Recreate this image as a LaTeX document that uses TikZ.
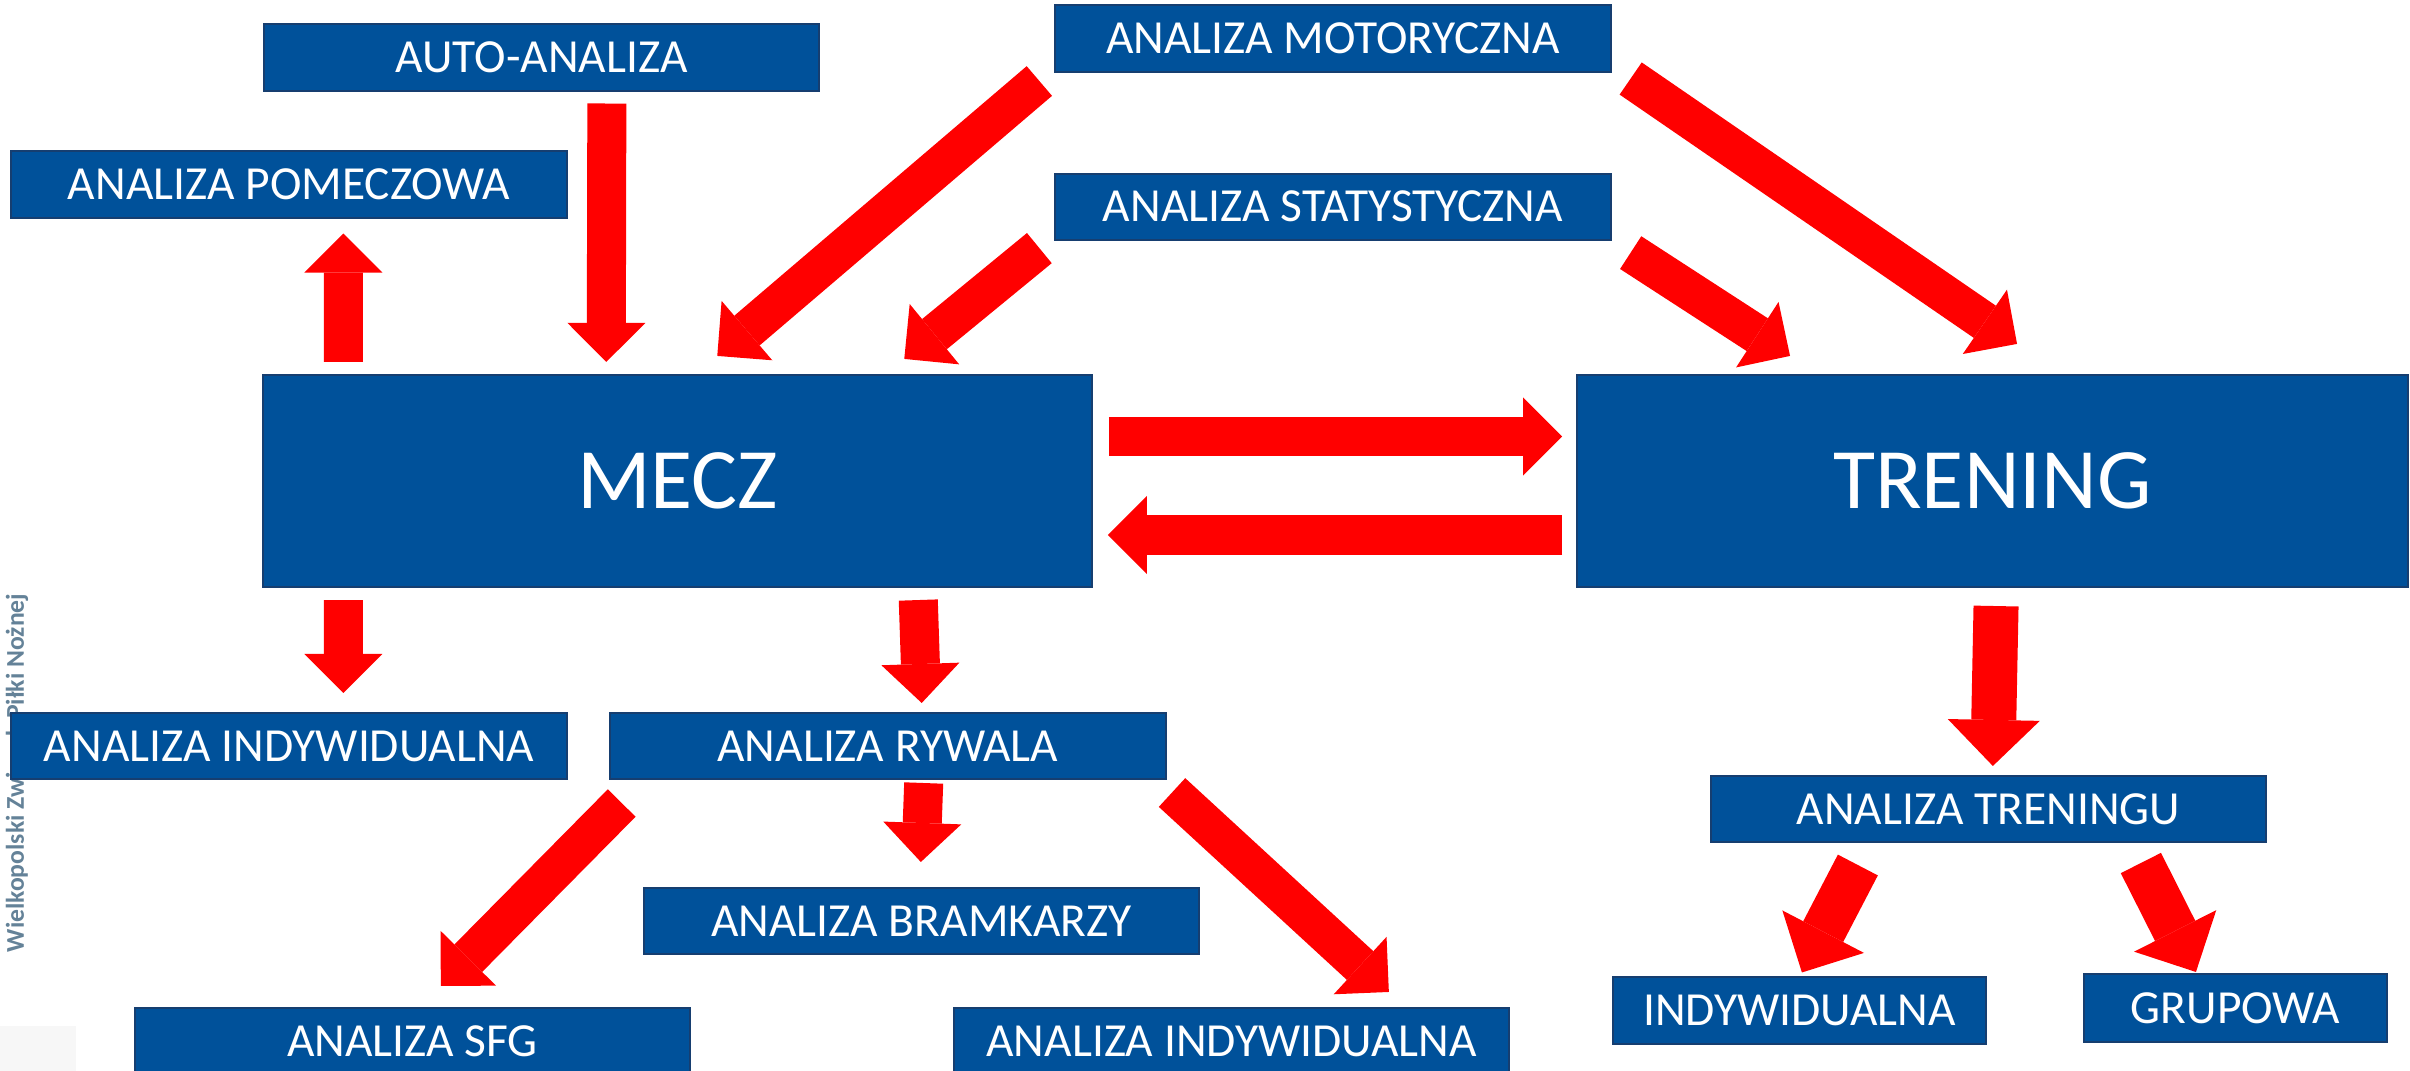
\documentclass[tikz,border=0pt]{standalone}
\usepackage{fontspec}
\setmainfont{Carlito}
\usetikzlibrary{arrows.meta,positioning}
\definecolor{boxblue}{RGB}{0,81,154}
\definecolor{boxedge}{RGB}{22,62,112}
\definecolor{arrowred}{RGB}{255,0,0}
\definecolor{markgray}{RGB}{100,130,152}
\tikzset{box/.style={fill=boxblue,draw=boxedge,line width=0.02cm,text=white,inner sep=0pt,
        minimum width=5.55cm,minimum height=0.66cm,font=\fontsize{13.5}{16}\selectfont},
    bigbox/.style={box,minimum width=8.28cm,minimum height=2.12cm,font=\fontsize{24.5}{29}\selectfont},
    blk/.style={arrowred,line width=0.39cm,-{Triangle[length=0.39cm,width=0.78cm,line width=0pt]}},
    bigblk/.style={arrowred,line width=0.45cm,-{Triangle[length=0.46cm,width=0.92cm,line width=0pt]}}}

\begin{document}
\begin{tikzpicture}[x=0.01cm,y=-0.01cm]
    \useasboundingbox (0,0) rectangle (2410,1071);
    % slide leftovers
    \fill[gray!6] (0,1026) rectangle (76,1071);
    \node[rotate=90,text=markgray,font=\fontsize{7.3}{9}\selectfont\bfseries] (znak) at (17,773) {Wielkopolski Związek Piłki Nożnej};

    \node[box] (auto) at (541.5,57.5) {AUTO-ANALIZA};
    \node[box] (pomecz) at (289,184.5) {ANALIZA POMECZOWA};
    \node[box] (mot) at (1333,38.5) {ANALIZA MOTORYCZNA};
    \node[box] (stat) [below=1cm of mot] {ANALIZA STATYSTYCZNA};
    \node[bigbox] (mecz) at (677.5,481) {MECZ};
    \node[bigbox,minimum width=8.3cm] (trening) [right=4.83cm of mecz] {TRENING};
    \node[box] (indl) at (289,746) {ANALIZA INDYWIDUALNA};
    \node[box,minimum width=5.56cm] (rywal) [right=0.41cm of indl] {ANALIZA RYWALA};
    \node[box] (bramk) at (921.5,921) {ANALIZA BRAMKARZY};
    \node[box] (sfg) at (412.5,1041) {ANALIZA SFG};
    \node[box] (indr) at (1231.5,1041) {ANALIZA INDYWIDUALNA};
    \node[box] (trenin) at (1988.5,809) {ANALIZA TRENINGU};
    \node[box,minimum width=3.73cm] (indyw) at (1799.5,1010.5) {INDYWIDUALNA};
    \node[box,minimum width=3.03cm,minimum height=0.68cm] (grup) at (2235.5,1008) {GRUPOWA};

    % arrows round the match
    \draw[blk] ([shift={(81,-12)}]mecz.north west) -- ([shift={(333,15)}]pomecz.south west);
    \draw[blk] ([shift={(344,12)}]auto.south west) -- ([shift={(344,-12)}]mecz.north west);
    \draw[blk] ([shift={(-15,8.5)}]mot.south west) -- ([shift={(455,-18)}]mecz.north west);
    \draw[blk] ([shift={(-15,7.5)}]stat.south west) -- ([shift={(642,-15)}]mecz.north west);
    \draw[blk] ([shift={(19,12)}]stat.south east) -- ([shift={(214,-18)}]trening.north west);
    \draw[blk] ([shift={(19,6)}]mot.south east) -- ([shift={(441,-30)}]trening.north west);
    \draw[blk] ([shift={(16,-44.5)}]mecz.east) -- ([shift={(-14,-44.5)}]trening.west);
    \draw[blk] ([shift={(-14,54)}]trening.west) -- ([shift={(15,54)}]mecz.east);
    \draw[blk] ([shift={(81,12)}]mecz.south west) -- ([shift={(333,-19)}]indl.north west);
    \draw[blk] ([shift={(656,12)}]mecz.south west) -- ([shift={(313,-9)}]rywal.north west);
    \draw[blk] ([shift={(315,3)}]rywal.south west) -- ([shift={(278,-25)}]bramk.north west);
    \draw[blk] ([shift={(13,23)}]rywal.south west) -- ([shift={(307,-21)}]sfg.north west);
    \draw[blk] ([shift={(5,12.5)}]rywal.south east) -- ([shift={(436,-15)}]indr.north west);
    % training side
    \draw[bigblk] ([shift={(420,18)}]trening.south west) -- ([shift={(283,-9)}]trenin.north west);
    \draw[bigblk] ([shift={(148,22)}]trenin.south west) -- ([shift={(190,-4)}]indyw.north west);
    \draw[bigblk] ([shift={(431,20)}]trenin.south west) -- ([shift={(113,-1)}]grup.north west);
\end{tikzpicture}
\end{document}
